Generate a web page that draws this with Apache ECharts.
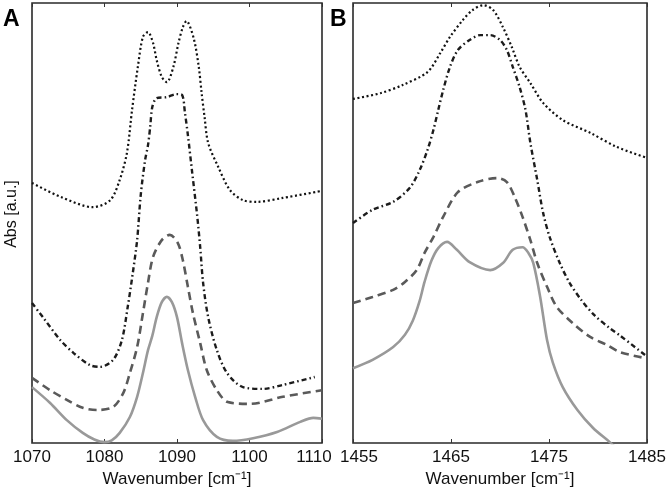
<!DOCTYPE html>
<html><head><meta charset="utf-8">
<script src="https://cdn.jsdelivr.net/npm/echarts@6/dist/echarts.min.js"></script>
<style>html,body{margin:0;padding:0;background:#fff}#c{width:667px;height:488px}</style>
</head><body><div id="c"></div>
<script>
// Panel A (1070-1110 cm-1)
const aDottedX = [1070,1074,1078.4,1080.8,1082.1,1083.1,1083.8,1084.6,1085.3,1086.0,1086.7,1087.2,1087.9,1088.6,1089.5,1090.2,1090.8,1091.3,1092.3,1093.0,1093.4,1093.8,1094.3,1095.7,1097.3,1099.1,1101.0,1104.6,1110];
const aDottedY = [59.1,55.9,53.6,55.2,59.8,66,75.7,85.5,92.3,93.4,90.9,87.0,83.2,82.0,85.5,90.9,94.5,95.9,92,85.5,79.5,74.1,68.2,62.7,57.5,55.2,54.8,55.7,57.3];
const aDashDotX = [1070,1071.5,1073.9,1075.7,1078.0,1079.4,1081.2,1082.4,1083.2,1083.9,1084.5,1085.0,1085.6,1086.0,1086.3,1086.6,1087.2,1088.6,1089.9,1090.7,1091.1,1091.5,1092.1,1092.8,1093.2,1093.6,1094.3,1095.5,1096.9,1099.1,1101.9,1104.6,1109.0];
const aDashDotY = [31.8,28.6,23.4,20.5,17.7,17.3,18.9,23.4,30.9,38.6,46.1,56.4,64.3,67.7,71.8,76.4,78.4,78.6,79.3,79.1,75.0,70.0,61.4,51.4,44.5,36.4,28.6,21.1,15.9,12.7,12.3,13.2,15.0];
const aDashedX = [1070,1072.5,1074.8,1077.0,1079.0,1081.2,1082.6,1083.5,1084.5,1085.3,1086.0,1086.7,1087.9,1089.0,1090.1,1090.8,1091.5,1092.2,1093.2,1094.1,1095.5,1097.0,1100.1,1104.6,1110];
const aDashedY = [14.8,12.0,9.8,8.0,7.5,8.2,11.4,15.9,21.8,29.5,36.4,42.3,46.1,47.3,45.5,41.6,35.5,29.5,22.7,16.6,12.0,9.3,8.9,10.5,12.0];
const aSolidX = [1070,1072.5,1074.8,1077.0,1078.6,1080.0,1081.0,1082.1,1083.5,1084.5,1085.3,1086.0,1086.6,1087.2,1087.9,1088.6,1089.3,1090.0,1090.7,1091.5,1092.5,1093.6,1095.5,1097.7,1100.5,1103.8,1107.0,1108.8,1110];
const aSolidY = [12.7,9.1,5.2,2.3,0.8,0.2,0.6,2.3,5.9,10.5,15.9,21.1,24.4,28.6,32.0,33.2,32.0,28.6,22.7,16.6,10.5,5.2,1.4,0.5,1.1,2.5,4.8,5.7,5.5];

// Panel B (1455-1485 cm-1)
const bDottedX = [1455,1457.8,1460.1,1462.6,1463.9,1464.9,1466.2,1467.2,1468.3,1469.3,1470.3,1471.2,1472.0,1473.1,1474.4,1476.4,1479.2,1481.9,1485];
const bDottedY = [78.2,79.5,81.4,84.3,88.6,92.3,96.1,98.4,99.5,98.4,94.5,90.0,85.5,81.8,77.3,73.4,70.5,67.3,64.8];
const bDashDotX = [1455,1457.0,1459.1,1460.8,1461.8,1462.6,1463.2,1463.7,1464.2,1464.9,1465.7,1466.9,1468.0,1469.0,1470.0,1470.7,1471.3,1472.0,1472.6,1473.1,1473.8,1474.4,1475.1,1476.1,1477.1,1478.3,1479.6,1481.2,1482.2,1484.8];
const bDashDotY = [50.0,53.0,54.8,58.0,62.0,66.6,71.1,75.7,80.2,85.5,89.3,91.6,92.7,92.7,91.6,89.3,85.5,80.9,75.7,68.2,59.8,52.3,46.6,40.9,36.4,32.5,29.1,26.1,24.5,20.0];
const bDashedX = [1455,1457.0,1459.1,1460.3,1461.5,1462.3,1463.2,1464.2,1465.7,1467.7,1469.7,1470.7,1471.5,1472.3,1473.1,1473.8,1474.8,1475.8,1477.4,1479.2,1480.9,1482.2,1484.8];
const bDashedY = [31.8,33.2,34.8,36.6,39.3,43.2,46.8,51.4,57.0,59.3,60.2,59.3,55.9,51.4,46.1,40.9,35.5,30.9,27.3,24.1,22.3,20.7,19.3];
const bSolidX = [1455,1457.0,1459.1,1460.3,1461.1,1461.8,1462.3,1463.0,1463.7,1464.6,1465.6,1466.9,1469.0,1470.3,1471.3,1472.3,1472.9,1473.4,1474.1,1474.8,1475.4,1476.4,1477.9,1479.5,1481.2,1482.2];
const bSolidY = [17.0,18.9,21.8,24.6,27.8,32.3,36.6,41.4,44.3,45.7,43.9,41.1,39.3,40.9,43.9,44.5,43.2,40.9,33.2,23.4,18.2,12.7,7.5,3.4,0.2,-1.8];

const aTicks = [1070,1080,1090,1100,1110];
const bTicks = [1455,1465,1475,1485];

const zip = (xs, ys) => xs.map((x, i) => [x, ys[i]]);
const FONT = 'Liberation Sans, Arial, sans-serif';

const styles = {
  dotted:  {color: '#111', width: 2.2, type: [2, 2.6]},
  dashdot: {color: '#1c1c1c', width: 2.4, type: [5, 3, 1.6, 3]},
  dashed:  {color: '#5a5a5a', width: 2.6, type: [8, 5]},
  solid:   {color: '#999', width: 2.6, type: 'solid'}
};
function mk(idx, xs, ys, st) {
  return {type: 'line', xAxisIndex: idx, yAxisIndex: idx, data: zip(xs, ys),
    showSymbol: false, smooth: 0.3, clip: true,
    lineStyle: {color: st.color, width: st.width, type: st.type, cap: 'butt'}};
}
const labStyle = {color: '#111', fontSize: 17, fontFamily: FONT};
function xAx(gi, min, max, ticks, pos, showLabel, shiftVal, shiftKey) {
  return {type: 'value', gridIndex: gi, position: pos, min: min, max: max,
    axisLine: {show: false},
    axisTick: {show: true, inside: true, length: 4, lineStyle: {color: '#333', width: 1},
      customValues: ticks},
    axisLabel: {show: showLabel, customValues: ticks, color: '#111', fontSize: 17,
      fontFamily: FONT, margin: 6,
      formatter: v => (v === shiftVal ? '{' + shiftKey + '|' + v + '}' : String(v)),
      rich: {
        l: Object.assign({padding: [0, 16, 0, 0]}, labStyle),
        r: Object.assign({padding: [0, 0, 0, 12]}, labStyle)
      }},
    splitLine: {show: false},
    name: showLabel ? 'Wavenumber [cm\u207B\u00B9]' : '',
    nameLocation: 'middle', nameGap: 25,
    nameTextStyle: {color: '#111', fontSize: 17, fontFamily: FONT}};
}
function yAx(gi) {
  return {type: 'value', gridIndex: gi, min: 0, max: 100,
    axisLine: {show: false}, axisTick: {show: false}, axisLabel: {show: false},
    splitLine: {show: false}};
}

const chart = echarts.init(document.getElementById('c'));
chart.setOption({
  animation: false,
  backgroundColor: '#fff',
  grid: [
    {left: 32, top: 3, width: 290, height: 440, show: true, borderColor: '#2a2a2a', borderWidth: 1.6, backgroundColor: 'transparent', containLabel: false, outerBoundsMode: 'none'},
    {left: 353, top: 3, width: 294, height: 440, show: true, borderColor: '#2a2a2a', borderWidth: 1.6, backgroundColor: 'transparent', containLabel: false, outerBoundsMode: 'none'}
  ],
  xAxis: [
    xAx(0, 1070, 1110, aTicks, 'bottom', true, 1110, 'l'),
    xAx(1, 1455, 1485, bTicks, 'bottom', true, 1455, 'r'),
    xAx(0, 1070, 1110, aTicks, 'top', false, null, 'l'),
    xAx(1, 1455, 1485, bTicks, 'top', false, null, 'r')
  ],
  yAxis: [yAx(0), yAx(1)],
  series: [
    mk(0, aSolidX, aSolidY, styles.solid),
    mk(0, aDashedX, aDashedY, styles.dashed),
    mk(0, aDashDotX, aDashDotY, styles.dashdot),
    mk(0, aDottedX, aDottedY, styles.dotted),
    mk(1, bSolidX, bSolidY, styles.solid),
    mk(1, bDashedX, bDashedY, styles.dashed),
    mk(1, bDashDotX, bDashDotY, styles.dashdot),
    mk(1, bDottedX, bDottedY, styles.dotted)
  ],
  graphic: [
    {type: 'text', left: 3, top: 8, style: {text: 'A', font: 'bold 23px ' + FONT, fill: '#000'}},
    {type: 'text', left: 330, top: 8, style: {text: 'B', font: 'bold 23px ' + FONT, fill: '#000'}},
    {type: 'text', x: 12, y: 214, rotation: Math.PI / 2,
      style: {text: 'Abs [a.u.]', font: '16px ' + FONT, fill: '#111', align: 'center', verticalAlign: 'middle'}}
  ]
});
</script></body></html>
